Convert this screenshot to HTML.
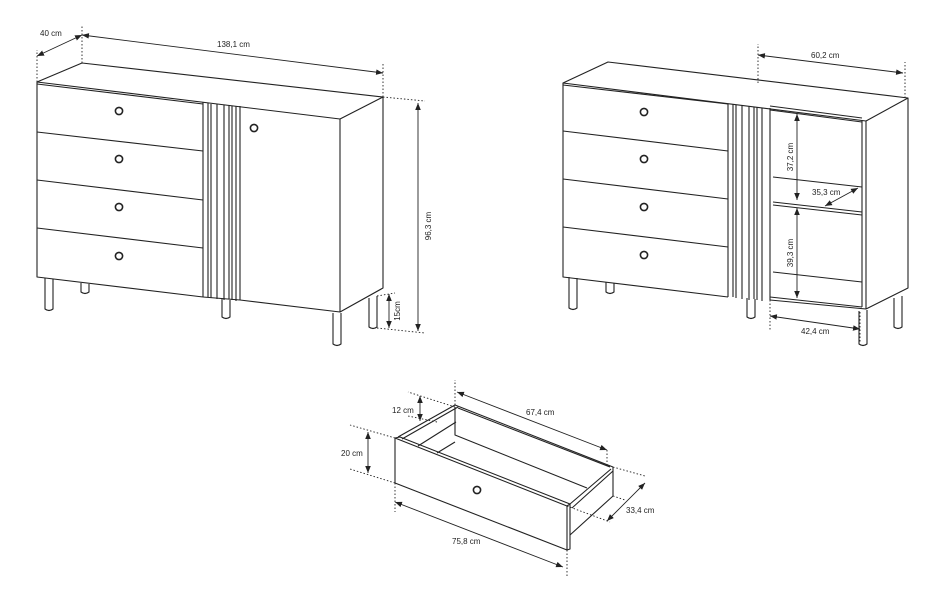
<!DOCTYPE html>
<html><head><meta charset="utf-8"><style>
html,body{margin:0;padding:0;background:#fff;}
svg{display:block;}
text{font-family:"Liberation Sans",sans-serif;font-size:8px;fill:#222;}
</style></head><body>
<svg width="937" height="589" viewBox="0 0 937 589" xmlns="http://www.w3.org/2000/svg">
<defs>
<marker id="a" viewBox="0 0 10 10" refX="10" refY="5" markerWidth="7" markerHeight="7" orient="auto-start-reverse" markerUnits="userSpaceOnUse"><path d="M0,1 L10,5 L0,9 z" fill="#222"/></marker>
</defs>
<g fill="none" stroke="#222" stroke-width="1.1" stroke-linejoin="round">
<!-- LEFT CABINET -->
<path d="M37,82 L82,63 L383,97 L340,119 Z"/>
<path d="M37,84 L203,104"/>
<path d="M37,82 L37,277 L203,297"/>
<path d="M340,119 L340,312 L240,300"/>
<path d="M383,97 L383,288 L340,312"/>
<path d="M203,102 L203,297"/>
<path d="M37,132 L203,151 M37,180 L203,200 M37,228 L203,248"/>
<path d="M240,106 L240,300"/>
<path d="M208,103 L208,297 M211,104 L211,298 M217,104 L217,299 M224,105 L224,300 M229,105 L229,299 M232,106 L232,300 M236,106 L236,301"/>
<path d="M203,297 L240,300"/>
<circle cx="119" cy="111" r="3.6" stroke-width="1.6"/>
<circle cx="119" cy="159" r="3.6" stroke-width="1.6"/>
<circle cx="119" cy="207" r="3.6" stroke-width="1.6"/>
<circle cx="119" cy="256" r="3.6" stroke-width="1.6"/>
<circle cx="254" cy="128" r="3.6" stroke-width="1.6"/>
<!-- legs -->
<path d="M45,278 L45,309 Q49,312 53,309 L53,279"/>
<path d="M81,283 L81,292 Q85,295 89,292 L89,284"/>
<path d="M222,299 L222,317 Q226,320 230,317 L230,300"/>
<path d="M333,313 L333,344 Q337,347 341,344 L341,313"/>
<path d="M369,298 L369,327 Q373,330 377,327 L377,296"/>
<!-- RIGHT CABINET -->
<path d="M563,83 L608,62 L908,98 L866,121 Z"/>
<path d="M563,85 L728,104"/>
<path d="M563,83 L563,277 L728,297"/>
<path d="M728,104 L728,297 M733,104 L733,297 M736,105 L736,298 M742,105 L742,299 M749,106 L749,300 M754,107 L754,299 M757,107 L757,300 M762,108 L762,301"/>
<path d="M770,108 L770,300"/>
<path d="M563,131 L728,151 M563,179 L728,199 M563,227 L728,247"/>
<path d="M770,106 L862,118 M770,110 L862,122"/>
<path d="M862,121 L862,307"/>
<path d="M866,121 L866,309"/>
<path d="M908,98 L908,288 L866,309"/>
<path d="M773,177 L862,187 M773,202 L862,212 M773,205 L862,215 M773,272 L862,282"/>
<path d="M770,297 L862,307 M770,300 L866,309"/>
<circle cx="644" cy="112" r="3.6" stroke-width="1.6"/>
<circle cx="644" cy="159" r="3.6" stroke-width="1.6"/>
<circle cx="644" cy="207" r="3.6" stroke-width="1.6"/>
<circle cx="644" cy="255" r="3.6" stroke-width="1.6"/>
<path d="M569,277 L569,308 Q573,311 577,308 L577,278"/>
<path d="M606,282 L606,292 Q610,295 614,292 L614,283"/>
<path d="M747,298 L747,317 Q751,320 755,317 L755,299"/>
<path d="M859,311 L859,344 Q863,347 867,344 L867,310"/>
<path d="M894,298 L894,327 Q898,330 902,327 L902,296"/>
<!-- DRAWER -->
<path d="M395,438 L395,483 L567,550 L567,506 Z"/>
<path d="M395,438 L400,437 L570,504 L567,506"/>
<path d="M570,504 L570,549 L567,550"/>
<path d="M398,437 L455,405 M402,439 L458,407"/>
<path d="M455,405 L613,467 M458,408 L610,467"/>
<path d="M613,467 L613,496 L570,535"/>
<path d="M570,504 L611,469 M572,508 L613,471"/>
<path d="M455,407 L455,435 L587,488"/>
<path d="M418,446 L456,422 M437,453 L455,442"/>
<circle cx="477" cy="490" r="3.6" stroke-width="1.6"/>
</g>
<!-- dims -->
<g fill="none" stroke="#222" stroke-width="0.9">
<g stroke-dasharray="1.5,2">
<path d="M37,82 L37,50 M82,63 L82,25 M383,97 L383,62 M383,97 L425,101 M377,328 L425,333 M377,296 L395,293"/>
<path d="M758,83 L758,44 M905,98 L905,62 M770,300 L770,330 M860,312 L860,342"/>
<path d="M455,405 L455,380 M395,483 L395,512 M567,550 L567,578 M395,438 L350,425 M395,483 L350,469 M455,407 L408,392 M437,422 L408,416 M613,467 L645,476 M613,496 L625,500 M567,506 L610,522 M607,450 L607,467"/>
</g>
<g marker-start="url(#a)" marker-end="url(#a)">
<path d="M37,56 L82,35"/>
<path d="M82,35 L383,73"/>
<path d="M418,103 L418,331"/>
<path d="M389,294 L389,328"/>
<path d="M758,55 L903,73"/>
<path d="M797,114 L797,200"/>
<path d="M797,208 L797,298"/>
<path d="M825,206 L858,188"/>
<path d="M770,316 L860,329"/>
<path d="M420,396 L420,421"/>
<path d="M368,432 L368,473"/>
<path d="M457,392 L607,450"/>
<path d="M607,521 L645,483"/>
<path d="M395,502 L563,567"/>
</g>
</g>
<text x="40" y="36">40 cm</text>
<text x="217" y="47">138,1 cm</text>
<text transform="translate(431,226) rotate(-90)" text-anchor="middle">96,3 cm</text>
<text transform="translate(400,311) rotate(-90)" text-anchor="middle">15cm</text>
<text x="811" y="58">60,2 cm</text>
<text transform="translate(793,157) rotate(-90)" text-anchor="middle">37,2 cm</text>
<text transform="translate(793,253) rotate(-90)" text-anchor="middle">39,3 cm</text>
<text x="812" y="195">35,3 cm</text>
<text x="801" y="334">42,4 cm</text>
<text x="392" y="413">12 cm</text>
<text x="341" y="456">20 cm</text>
<text x="526" y="415">67,4 cm</text>
<text x="626" y="513">33,4 cm</text>
<text x="452" y="544">75,8 cm</text>
</svg>
</body></html>
